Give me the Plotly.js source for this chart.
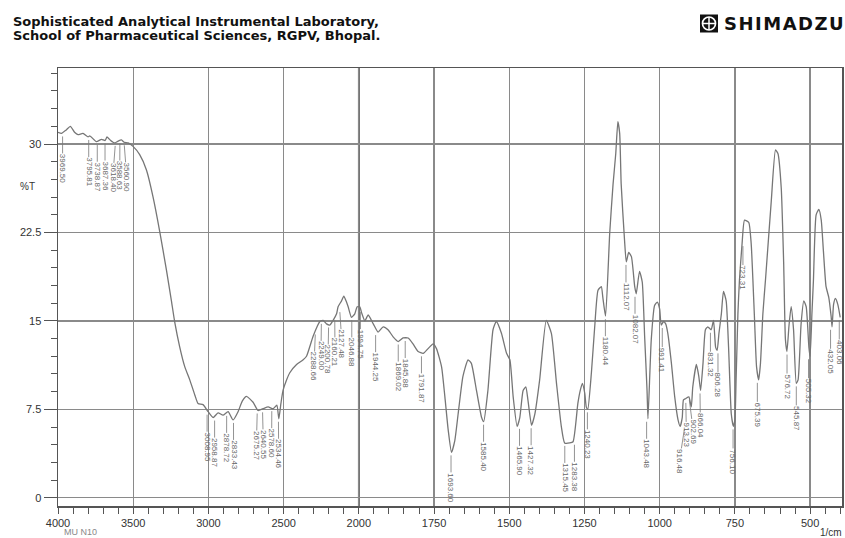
<!DOCTYPE html>
<html><head><meta charset="utf-8">
<script src="https://cdn.plot.ly/plotly-3.0.1.min.js"></script>
<style>html,body{margin:0;padding:0;background:#fff;}#chart{width:845px;height:538px;}</style>
</head><body><div id="chart"></div>
<script>
// ---- spectrum data (wavenumber in 1/cm, %T) ----
const wavenumbers = [
4000,3977,3945,3918,3890,3867,3834,3800,3789,3745,3711,3687,3674,3650,3634,3620,3600,3578,3560,3534,3501,3457,3412,3368,3324,3279,3246,3224,3191,3157,3124,3090,3069,3036,3002,2969,2936,2903,2869,2836,2803,2775,2747,2703,2670,2637,2603,2570,2545,2532,2518,2504,2480,2459,2414,2370,2348,2304,2259,2237,2215,2193,2171,2148,2138,2115,2100,2082,2071,2049,2027,2011,
1997,1991,1980,1969,1952,1936,1919,1903,1886,1869,1853,1836,1820,1803,1786,1770,1753,1742,1725,1714,1703,1692,1681,1670,1654,1637,1626,1609,1592,1585,1571,1554,1543,1526,1509,1498,1487,1474,1465,1454,1445,1438,1426,1415,1399,1377,1360,1343,1327,1316,1299,1288,1272,1264,1257,1249,1244,1239,1227,1216,1205,1194,1189,1180,1166,1155,1146,1139,1133,1128,1117,1111,1103,1094,1083,1078,1067,1058,1050,1042,1039,1028,1017,1008,1000,995,987,980,973,961,950,939,932,925,921,914,903,895,890,878,870,864,856,848,840,829,821,814,809,803,795,788,779,771,762,755,750,746,740,735,726,718,704,696,685,678,671,665,657,648,629,615,607,596,588,582,577,570,563,555,546,540,530,521,513,504,500,494,489,480,471,463,456,447,438,430,427,422,416,408,400];
const transmittance = [
31.0,30.9,31.2,31.5,31.0,30.8,30.9,30.6,30.7,30.2,30.4,30.3,30.6,30.3,30.15,30.1,30.25,30.35,30.15,30.1,29.8,29.1,27.8,25.5,22.6,19.3,16.7,14.9,12.8,11.1,10.0,8.7,8.0,7.9,7.3,6.8,7.2,7.0,7.3,6.6,7.3,8.2,8.6,8.1,7.4,7.55,7.7,7.55,7.85,6.7,8.0,9.1,10.0,10.6,11.3,11.7,12.0,13.7,14.95,15.05,14.75,14.65,15.05,15.6,16.2,16.7,17.1,16.6,16.2,15.3,15.6,16.2,
16.2,15.7,15.0,15.5,14.75,14.05,14.5,14.25,13.65,13.25,13.55,13.55,13.05,12.4,12.25,12.65,13.05,12.65,11.1,8.55,5.75,3.85,4.85,7.1,10.3,11.7,11.4,9.1,6.8,6.45,9.1,14.25,14.95,13.95,12.25,11.7,8.55,6.05,6.8,9.1,9.4,8.3,6.15,7.1,10.0,15.05,13.95,9.7,6.05,4.65,4.65,4.75,8.0,9.1,9.7,8.85,7.7,7.5,10.6,14.5,17.6,17.9,17.0,15.4,22.5,26.6,29.2,31.9,30.9,26.6,21.9,20.0,20.8,20.45,17.9,17.3,19.2,18.3,13.65,9.1,6.7,13.4,16.3,16.6,16.0,14.65,14.95,14.75,13.95,11.4,8.55,6.6,6.05,6.8,8.3,8.4,8.55,7.7,9.4,11.3,10.3,9.1,11.4,14.25,14.5,14.25,15.05,12.75,12.5,13.95,15.6,17.5,16.7,12.75,7.1,6.05,6.6,10.0,15.6,18.4,21.6,23.55,23.35,21.6,15.3,11.1,10.0,11.4,15.6,18.6,25.2,29.5,29.2,26.3,20.0,13.4,12.4,14.65,16.2,14.25,9.7,10.0,14.75,16.7,16.2,12.75,12.0,15.6,18.4,24.0,24.45,23.55,21.0,17.9,17.0,15.35,14.5,16.4,16.9,16.4,15.3];

// ---- peak labels ----
const peakWavenumbers = [3969.50,3795.81,3738.87,3687.36,3618.40,3588.63,3560.90,3008.95,2958.87,2878.72,2833.43,2675.27,2640.55,2578.60,2534.46,2288.66,2249.00,2200.78,2160.21,2127.48,2046.88,1994.75,1944.25,1869.02,1845.88,1791.87,1693.60,1585.40,1465.90,1427.32,1315.45,1283.38,1240.23,1180.44,1112.07,1082.07,1043.48,991.41,916.48,913.23,902.69,866.04,831.32,806.28,756.10,723.31,675.39,576.72,545.87,505.32,432.05,403.06];
const peakTransmittance = [30.9,30.6,30.2,30.3,30.1,30.3,30.15,7.3,6.8,7.2,6.6,7.4,7.5,7.6,6.7,14.1,15.0,14.7,15.3,16.0,15.3,16.0,14.05,13.25,13.55,12.25,3.85,6.45,6.1,6.15,4.65,4.75,7.5,15.4,20.0,17.3,6.7,14.65,6.05,8.3,8.55,9.1,14.25,12.5,6.05,21.6,10.0,12.4,9.7,12.0,14.5,15.3];

// ---- axis ticks ----
const xTickLabels = [4000,3500,3000,2500,2000,1750,1500,1250,1000,750,500];
const yTickLabels = [0,7.5,15,22.5,30];

// Shimadzu-style split scale: 4000-2000 compressed, 2000-400 expanded x2
function toAxis(w){ return w >= 2000 ? 4000 - w : 2000 + (2000 - w) * 2; }

const W = 845, H = 538, M = {l:58, r:3, t:68, b:32};
const PW = W - M.l - M.r, PH = H - M.t - M.b;
const xRange = [0, 5212];
const yRange = [-0.70, 36.45];
const px2x = px => (px - M.l) / PW;
const py2y = py => (H - M.b - py) / PH;

const gridC = '#8a8a8a', axC = '#555', txtC = '#333';

const trace = {
  x: wavenumbers.map(toAxis), y: transmittance,
  type: 'scatter', mode: 'lines',
  line: {color: '#767676', width: 1.3, shape: 'spline', smoothing: 0.5},
  hoverinfo: 'skip'
};

// spread crowded labels horizontally
const kx = PW / (xRange[1] - xRange[0]);
const order = peakWavenumbers.map((w, i) => i).sort((a, b) => toAxis(peakWavenumbers[a]) - toAxis(peakWavenumbers[b]));
const target = order.map(i => toAxis(peakWavenumbers[i]) * kx);
const gap = 7;
const clusters = [];
target.forEach((t, k) => {
  clusters.push({first: k, n: 1, sum: t});
  while (clusters.length > 1) {
    const c = clusters[clusters.length - 1], p = clusters[clusters.length - 2];
    const pEnd = p.sum / p.n + (p.n - 1) * gap / 2;
    const cStart = c.sum / c.n - (c.n - 1) * gap / 2;
    if (cStart < pEnd + gap) { p.n += c.n; p.sum += c.sum; clusters.pop(); } else break;
  }
});
const placed = new Array(target.length);
clusters.forEach(c => { const m = c.sum / c.n; for (let j = 0; j < c.n; j++) placed[c.first + j] = m - (c.n - 1) * gap / 2 + j * gap; });

const annotations = [];
order.forEach((i, k) => {
  annotations.push({
    x: toAxis(peakWavenumbers[i]), y: peakTransmittance[i], xref: 'x', yref: 'y',
    text: peakWavenumbers[i].toFixed(2), textangle: 90,
    font: {family: 'Liberation Sans, Arial, sans-serif', size: 8, color: '#666'},
    showarrow: true, arrowhead: 0, arrowwidth: 0.8, arrowcolor: '#777',
    ax: placed[k] - target[k], ay: 35, standoff: 3, borderpad: 0
  });
});

// header texts
annotations.push({xref:'paper', yref:'paper', x: px2x(11), y: py2y(21), xanchor:'left', yanchor:'middle', showarrow:false,
  text:'<b>Sophisticated Analytical Instrumental Laboratory,</b>', font:{family:'DejaVu Sans, Verdana, sans-serif', size:13, color:'#111'}});
annotations.push({xref:'paper', yref:'paper', x: px2x(11), y: py2y(35.5), xanchor:'left', yanchor:'middle', showarrow:false,
  text:'<b>School of Pharmaceutical Sciences, RGPV, Bhopal.</b>', font:{family:'DejaVu Sans, Verdana, sans-serif', size:13, color:'#111'}});
annotations.push({xref:'paper', yref:'paper', x: px2x(722), y: py2y(24), xanchor:'left', yanchor:'middle', showarrow:false,
  text:'<b><span style="letter-spacing:1.5px">SHIMADZU</span></b>', font:{family:'DejaVu Sans, sans-serif', size:18, color:'#111'}});
annotations.push({xref:'paper', yref:'y', x: px2x(18), y: 26.4, xanchor:'left', yanchor:'middle', showarrow:false,
  text:'%T', font:{family:'Liberation Sans, Arial, sans-serif', size:10, color:txtC}});
annotations.push({xref:'paper', yref:'paper', x: px2x(62), y: py2y(532), xanchor:'left', yanchor:'middle', showarrow:false,
  text:'MU N10', font:{family:'Liberation Sans, Arial, sans-serif', size:9, color:'#888'}});
annotations.push({xref:'paper', yref:'paper', x: px2x(844), y: py2y(532), xanchor:'right', yanchor:'middle', showarrow:false,
  text:'1/cm', font:{family:'Liberation Sans, Arial, sans-serif', size:10, color:txtC}});

const shapes = [
  // darker divider line at 2000 1/cm (scale change)
  {type:'line', xref:'x', yref:'paper', x0: toAxis(2000), x1: toAxis(2000), y0: 0, y1: 1, line:{color:'#444', width:1.8}, layer:'below'},
  // logo box
  {type:'rect', xref:'paper', yref:'paper', x0: px2x(700), x1: px2x(718), y0: py2y(32.5), y1: py2y(14.5), fillcolor:'#111', line:{width:0}},
  {type:'circle', xref:'paper', yref:'paper', x0: px2x(702.5), x1: px2x(715.5), y0: py2y(30), y1: py2y(17), line:{color:'#fff', width:1.7}},
  {type:'line', xref:'paper', yref:'paper', x0: px2x(702.5), x1: px2x(715.5), y0: py2y(23.5), y1: py2y(23.5), line:{color:'#fff', width:1.5}},
  {type:'line', xref:'paper', yref:'paper', x0: px2x(709), x1: px2x(709), y0: py2y(30), y1: py2y(17), line:{color:'#fff', width:1.5}}
];

const layout = {
  width: W, height: H, margin: M,
  paper_bgcolor: '#fff', plot_bgcolor: '#fff',
  showlegend: false,
  xaxis: {
    range: xRange, tickmode: 'array',
    tickvals: xTickLabels.map(toAxis), ticktext: xTickLabels.map(String),
    ticks: 'outside', ticklen: 6, tickwidth: 1, tickcolor: axC,
    minor: {tickmode: 'linear', tick0: 0, dtick: 100, ticks: 'outside', ticklen: 6, tickwidth: 1, tickcolor: axC, showgrid: false},
    showgrid: true, gridcolor: gridC, gridwidth: 1.3,
    showline: true, linecolor: axC, linewidth: 1.5, mirror: true, zeroline: false,
    tickfont: {family: 'Liberation Sans, Arial, sans-serif', size: 11, color: txtC}
  },
  yaxis: {
    range: yRange, tickmode: 'array', tickvals: yTickLabels, ticktext: yTickLabels.map(String),
    ticks: 'outside', ticklen: 13, tickwidth: 1, tickcolor: axC,
    minor: {tickmode: 'linear', tick0: 0, dtick: 1.5, ticks: 'outside', ticklen: 6, tickwidth: 1, tickcolor: axC, showgrid: false},
    showgrid: true, gridcolor: gridC, gridwidth: 1.3,
    zeroline: true, zerolinecolor: gridC, zerolinewidth: 1.3,
    showline: true, linecolor: axC, linewidth: 1.5, mirror: true,
    tickfont: {family: 'Liberation Sans, Arial, sans-serif', size: 11, color: txtC}
  },
  annotations: annotations,
  shapes: shapes
};

Plotly.newPlot('chart', [trace], layout, {staticPlot: true, displayModeBar: false});
</script>
</body></html>
